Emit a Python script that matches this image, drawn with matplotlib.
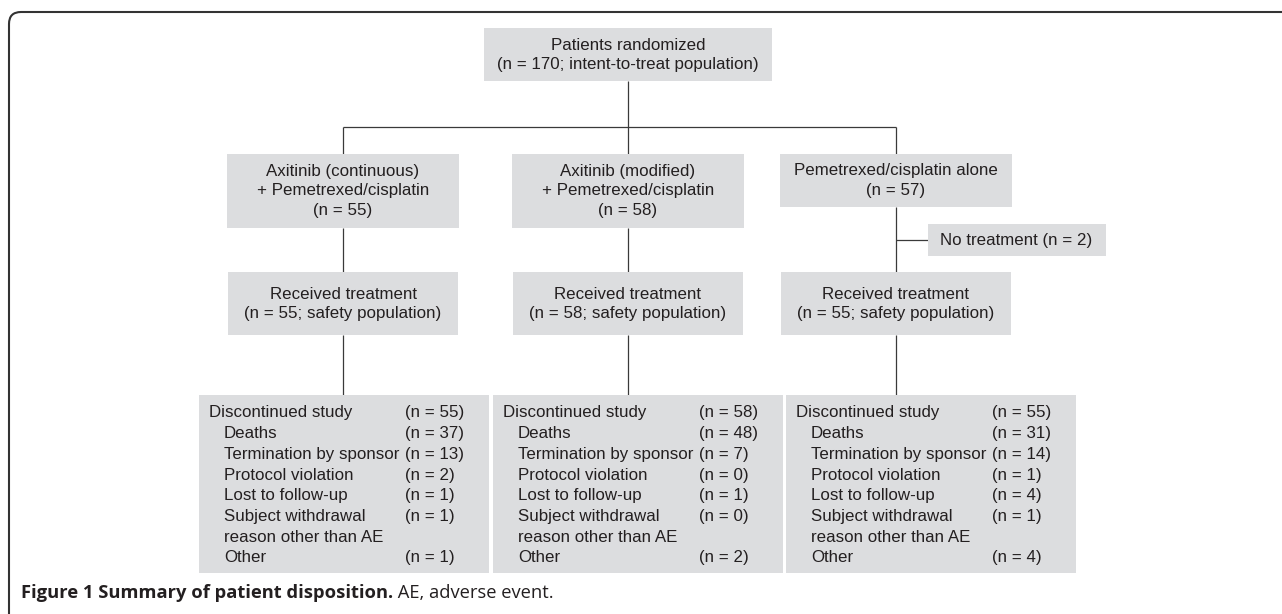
import matplotlib
matplotlib.use("Agg")
import matplotlib.pyplot as plt
from matplotlib.patches import Rectangle, PathPatch
from matplotlib.path import Path

# Flow chart content
top_label = "Patients randomized\n(n = 170; intent-to-treat population)"
arm_labels = [
    "Axitinib (continuous)\n+ Pemetrexed/cisplatin\n(n = 55)",
    "Axitinib (modified)\n+ Pemetrexed/cisplatin\n(n = 58)",
    "Pemetrexed/cisplatin alone\n(n = 57)",
]
treated_n = [55, 58, 55]
no_treatment_label = "No treatment (n = 2)"

reason_labels = ["Discontinued study", "Deaths", "Termination by sponsor",
                 "Protocol violation", "Lost to follow-up", "Subject withdrawal",
                 "reason other than AE", "Other"]
reason_indent = [False, True, True, True, True, True, True, True]
counts_arm1 = [55, 37, 13, 2, 1, 1, None, 1]
counts_arm2 = [58, 48, 7, 0, 1, 0, None, 2]
counts_arm3 = [55, 31, 14, 1, 4, 1, None, 4]

caption_bold = "Figure 1 Summary of patient disposition."
caption_rest = " AE, adverse event."

# Layout (pixel coordinates, y down)
W, H = 1282, 614
col_x = [343, 628, 896]
box_fill = "#dcdddf"
line_col = "#3a3a3a"
txt_col = "#231f20"
font = "Liberation Sans"
fs = 12.2

fig = plt.figure(figsize=(W / 100, H / 100), dpi=100)
ax = fig.add_axes([0, 0, 1, 1])
ax.set_xlim(0, W)
ax.set_ylim(H, 0)
ax.axis("off")


def box(x0, y0, x1, y1):
    ax.add_patch(Rectangle((x0, y0), x1 - x0, y1 - y0, facecolor=box_fill,
                           edgecolor="none", zorder=2))


def line(xs, ys):
    ax.plot(xs, ys, color=line_col, lw=0.9, zorder=1, solid_capstyle="butt")


def ctext(x, y, s):
    ax.text(x, y, s, ha="center", va="center", fontsize=fs, family=font,
            color=txt_col, linespacing=1.38, zorder=3)


# frame with rounded top-left corner
frame = Path([(9, H + 2), (9, 24), (9, 12), (21, 12), (W + 2, 12)],
             [Path.MOVETO, Path.LINETO, Path.CURVE3, Path.CURVE3, Path.LINETO])
ax.add_patch(PathPatch(frame, facecolor="none", edgecolor="#333333", lw=1.5))

# top box
box(484, 28, 772, 81)
ctext(628, 55, top_label)

# connectors
line([628, 628], [81, 127])
line([col_x[0], col_x[2]], [127, 127])
for x in col_x:
    line([x, x], [127, 154])

arm_bottom = [228, 228, 207]
for i, x in enumerate(col_x):
    box(x - 116, 154, x + 116, arm_bottom[i])
    ctext(x, (154 + arm_bottom[i]) / 2, arm_labels[i])
    line([x, x], [arm_bottom[i], 272])
    box(x - 115, 272, x + 115, 335)
    ctext(x, 304, "Received treatment\n(n = %d; safety population)" % treated_n[i])
    line([x, x], [335, 395])

# no treatment branch
line([col_x[2], 928], [240, 240])
box(928, 224, 1106, 256)
ax.text(940, 240, no_treatment_label, ha="left", va="center", fontsize=fs,
        family=font, color=txt_col, zorder=3)

# discontinuation boxes
bottom_left = [199, 493, 786]
all_counts = [counts_arm1, counts_arm2, counts_arm3]
for bx, counts in zip(bottom_left, all_counts):
    box(bx, 395, bx + 290, 573)
    for k, (lab, ind, n) in enumerate(zip(reason_labels, reason_indent, counts)):
        y = 413 + k * 20.7
        ax.text(bx + (25 if ind else 10), y, lab, ha="left", va="center",
                fontsize=fs, family=font, color=txt_col, zorder=3)
        if n is not None:
            ax.text(bx + 206, y, "(n = %d)" % n, ha="left", va="center",
                    fontsize=fs, family=font, color=txt_col, zorder=3)

# caption
t = ax.text(21, 602, caption_bold, ha="left", va="bottom", fontsize=13.2,
            family="Open Sans", fontweight="bold", color=txt_col)
ax.annotate(caption_rest, xy=(1, 0), xycoords=t, ha="left", va="bottom",
            fontsize=13.2, family="Open Sans", color=txt_col)

fig.savefig("out.png", dpi=100)
